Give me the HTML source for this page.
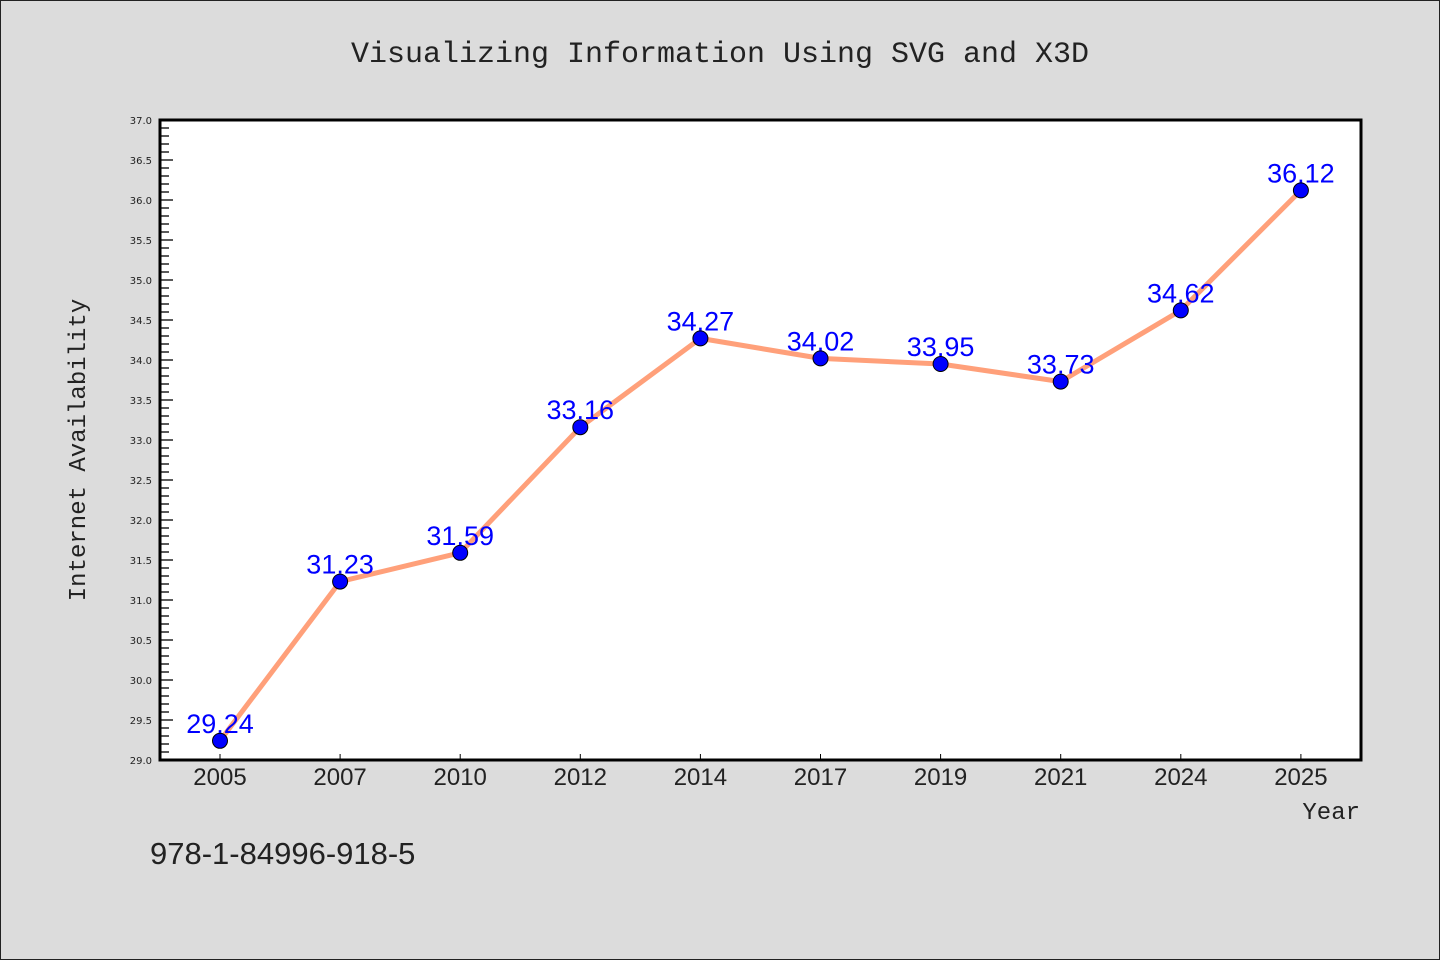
<!DOCTYPE html>
<html><head><meta charset="utf-8"><style>
html,body{margin:0;padding:0;background:#dcdcdc;}
svg{display:block;}
</style></head><body>
<svg id="chart" width="1440" height="960" xmlns="http://www.w3.org/2000/svg">
<rect x="0.5" y="0.5" width="1439" height="959" fill="#dcdcdc" stroke="#222" stroke-width="1"/>
<text x="720" y="62" text-anchor="middle" font-family="Liberation Mono, monospace" font-size="30" fill="#222">Visualizing Information Using SVG and X3D</text>
<rect x="160" y="120" width="1201" height="640" fill="#fff"/>
<g id="yaxis"></g><g id="xaxis"></g><g id="series"></g>
<rect x="160" y="120" width="1201" height="640" fill="none" stroke="#000" stroke-width="3"/>
<text transform="translate(85,450) rotate(-90)" text-anchor="middle" font-family="Liberation Mono, monospace" font-size="24" fill="#222">Internet Availability</text>
<text x="1360" y="819" text-anchor="end" font-family="Liberation Mono, monospace" font-size="24" fill="#222">Year</text>
<text x="150" y="864" font-family="Liberation Sans, sans-serif" font-size="31" fill="#222">978-1-84996-918-5</text>
</svg>
<script>
const categories=["2005","2007","2010","2012","2014","2017","2019","2021","2024","2025"];
const values=[29.24,31.23,31.59,33.16,34.27,34.02,33.95,33.73,34.62,36.12];
const yTickLabels=["29.0","29.5","30.0","30.5","31.0","31.5","32.0","32.5","33.0","33.5","34.0","34.5","35.0","35.5","36.0","36.5","37.0"];
const NS="http://www.w3.org/2000/svg";
const L=160,R=1361,T=120,B=760,yMin=29,yMax=37;
const band=(R-L)/categories.length;
function xs(i){return L+band*(i+0.5)+ -0.05;}
function ys(v){return B-(v-yMin)/(yMax-yMin)*(B-T);}
function mk(tag,attrs,parent){const e=document.createElementNS(NS,tag);for(const k in attrs)e.setAttribute(k,attrs[k]);parent.appendChild(e);return e;}
const ya=document.getElementById('yaxis'),xa=document.getElementById('xaxis'),sg=document.getElementById('series');
for(let k=0;k<=80;k++){const v=yMin+k*0.1;const y=ys(v);const major=k%5===0;
const t=mk('line',{x1:L,x2:L+(major?13:9),y1:y,y2:y,stroke:'#000','stroke-width':1.3},ya);

}
yTickLabels.forEach(s=>{const y=ys(parseFloat(s));
const t=mk('text',{x:L-8,y:y+4,'text-anchor':'end','font-family':'DejaVu Sans, sans-serif','font-size':10,fill:'#222'},ya);t.textContent=s;

});
categories.forEach((c,i)=>{const x=xs(i);
const t=mk('line',{x1:x,x2:x,y1:B,y2:B-6,stroke:'#000','stroke-width':1},xa);


const lb=mk('text',{x:x,y:B+25,'text-anchor':'middle','font-family':'Liberation Sans, sans-serif','font-size':24,fill:'#222'},xa);lb.textContent=c;

});
const pl=mk('polyline',{points:values.map((v,i)=>xs(i)+','+ys(v)).join(' '),fill:'none',stroke:'#ffa07a','stroke-width':5,'stroke-linejoin':'round'},sg);


values.forEach((v,i)=>{const x=xs(i),y=ys(v);
const c=mk('circle',{cx:x,cy:y,r:7.5,fill:'#0000ff',stroke:'#000','stroke-width':1},sg);


const t=mk('text',{x:x,y:y-8,'text-anchor':'middle','font-family':'Liberation Sans, sans-serif','font-size':27,fill:'#0000ff'},sg);t.textContent=v.toFixed(2);

});
</script>
</body></html>
